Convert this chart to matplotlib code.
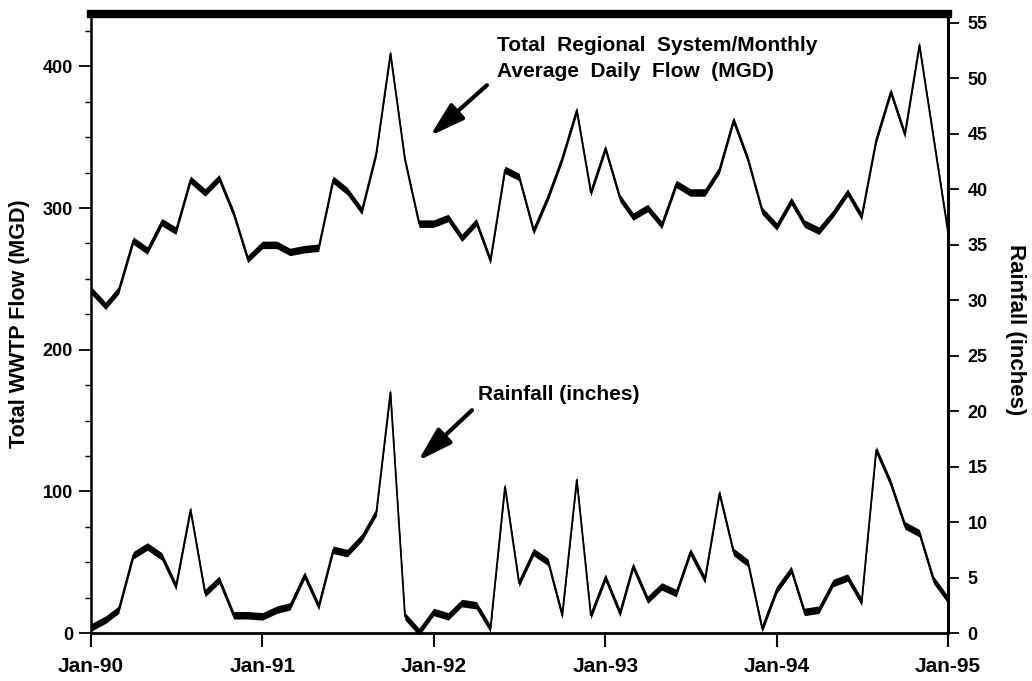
import numpy as np
import pandas as pd
import matplotlib
matplotlib.use("Agg")
import matplotlib.pyplot as plt
import matplotlib.dates as mdates
from matplotlib.ticker import MultipleLocator

plt.rcParams['font.family'] = ['Liberation Sans', 'DejaVu Sans']
plt.rcParams['font.weight'] = 'bold'

#%% data (monthly, Jan-90 .. Jan-95)
months = pd.date_range("1990-01-01", "1995-01-01", freq="MS")

flow_mgd = [242, 231, 242, 277, 270, 290, 284, 320, 311, 321, 296, 264,
            274, 274, 269, 271, 272, 320, 312, 298, 339, 409, 334, 289,
            289, 293, 279, 290, 263, 327, 322, 284, 308, 335, 369, 311,
            342, 307, 294, 300, 288, 317, 311, 311, 327, 362, 334, 298,
            287, 305, 289, 284, 296, 311, 294, 348, 382, 352, 415, 350,
            283]

rain_in = [0.5, 1.2, 2.1, 7.0, 7.8, 6.9, 4.2, 11.1, 3.6, 4.8, 1.6, 1.6,
           1.5, 2.1, 2.4, 5.2, 2.4, 7.5, 7.2, 8.6, 10.9, 21.7, 1.5, 0.1,
           1.9, 1.5, 2.7, 2.5, 0.4, 13.2, 4.5, 7.3, 6.4, 1.6, 13.8, 1.6,
           5.0, 1.8, 6.0, 3.0, 4.2, 3.6, 7.3, 4.8, 12.6, 7.3, 6.3, 0.4,
           3.9, 5.7, 1.9, 2.1, 4.5, 5.0, 2.8, 16.5, 13.5, 9.7, 9.0, 4.8,
           3.0]

flow_ticks = [0, 100, 200, 300, 400]
rain_ticks = list(range(0, 56, 5))

#%% figure
fig = plt.figure(figsize=(10.32, 6.81), dpi=100)
ax = fig.add_axes([91/1032, 48/681, 857/1032, 619/681])
ax2 = ax.twinx()

ax.set_xlim(months[0], months[-1])
ax.set_ylim(0, 437)
ax2.set_ylim(0, 55.8)

# vertical "pen nib" look: thick on flat parts, thin on steep parts
nib_px = 7.5
axes_h = 619


def pen_line(a, x, y, top):
    y = np.asarray(y, dtype=float)
    d = nib_px * top / axes_h / 2
    a.fill_between(x, y - d, y + d, color="black", lw=0)
    a.plot(x, y, color="black", lw=1.3)


pen_line(ax, months, flow_mgd, 437)
pen_line(ax2, months, rain_in, 55.8)

# axes styling
for s in ["top", "left", "bottom"]:
    ax2.spines[s].set_visible(False)
ax.spines["right"].set_visible(False)
ax.spines["top"].set_linewidth(6)
ax.spines["left"].set_linewidth(1.8)
ax.spines["bottom"].set_linewidth(2)
ax2.spines["right"].set_linewidth(2.2)

ax.xaxis.set_major_locator(mdates.YearLocator())
ax.xaxis.set_major_formatter(mdates.DateFormatter("%b-%y"))
ax.tick_params(axis="x", direction="out", length=10, width=1.5, pad=7,
               labelsize=15)
ax.set_yticks(flow_ticks)
ax.yaxis.set_minor_locator(MultipleLocator(25))
ax.tick_params(axis="y", which="major", direction="out", length=9,
               width=1.3, pad=4, labelsize=13)
ax.tick_params(axis="y", which="minor", direction="out", length=4, width=1)
ax2.set_yticks(rain_ticks)
ax2.tick_params(axis="y", direction="out", length=8, width=1.3, pad=6,
                labelsize=13)
for lab in ax.get_xticklabels() + ax.get_yticklabels() + ax2.get_yticklabels():
    lab.set_fontweight("bold")

ax.set_ylabel("Total WWTP Flow (MGD)", fontsize=15.5, fontweight="bold")
ax.yaxis.set_label_coords(-0.071, 0.5)
ax2.set_ylabel("Rainfall (inches)", fontsize=16, fontweight="bold",
               rotation=270, va="bottom")
ax2.yaxis.set_label_coords(1.066, 0.49)

# annotations
arrow_style = dict(arrowstyle="-|>,head_length=1.5,head_width=0.45",
                   lw=3, color="black", mutation_scale=14,
                   shrinkA=0, shrinkB=0)

ax.text(0.474, (633-51)/619, "Total  Regional  System/Monthly",
        transform=ax.transAxes, fontsize=15, fontweight="bold", va="baseline")
ax.text(0.474, (633-77)/619, "Average  Daily  Flow  (MGD)",
        transform=ax.transAxes, fontsize=15, fontweight="bold", va="baseline")
ax.annotate("", xy=(0.3956, 0.803), xytext=(0.462, 0.885),
            xycoords="axes fraction", textcoords="axes fraction",
            arrowprops=arrow_style)

ax.text(0.4516, (633-400)/619, "Rainfall (inches)", transform=ax.transAxes,
        fontsize=15, fontweight="bold", va="baseline")
ax.annotate("", xy=(0.3816, 0.278), xytext=(0.4446, 0.360),
            xycoords="axes fraction", textcoords="axes fraction",
            arrowprops=arrow_style)

fig.savefig("out.png", dpi=100)
